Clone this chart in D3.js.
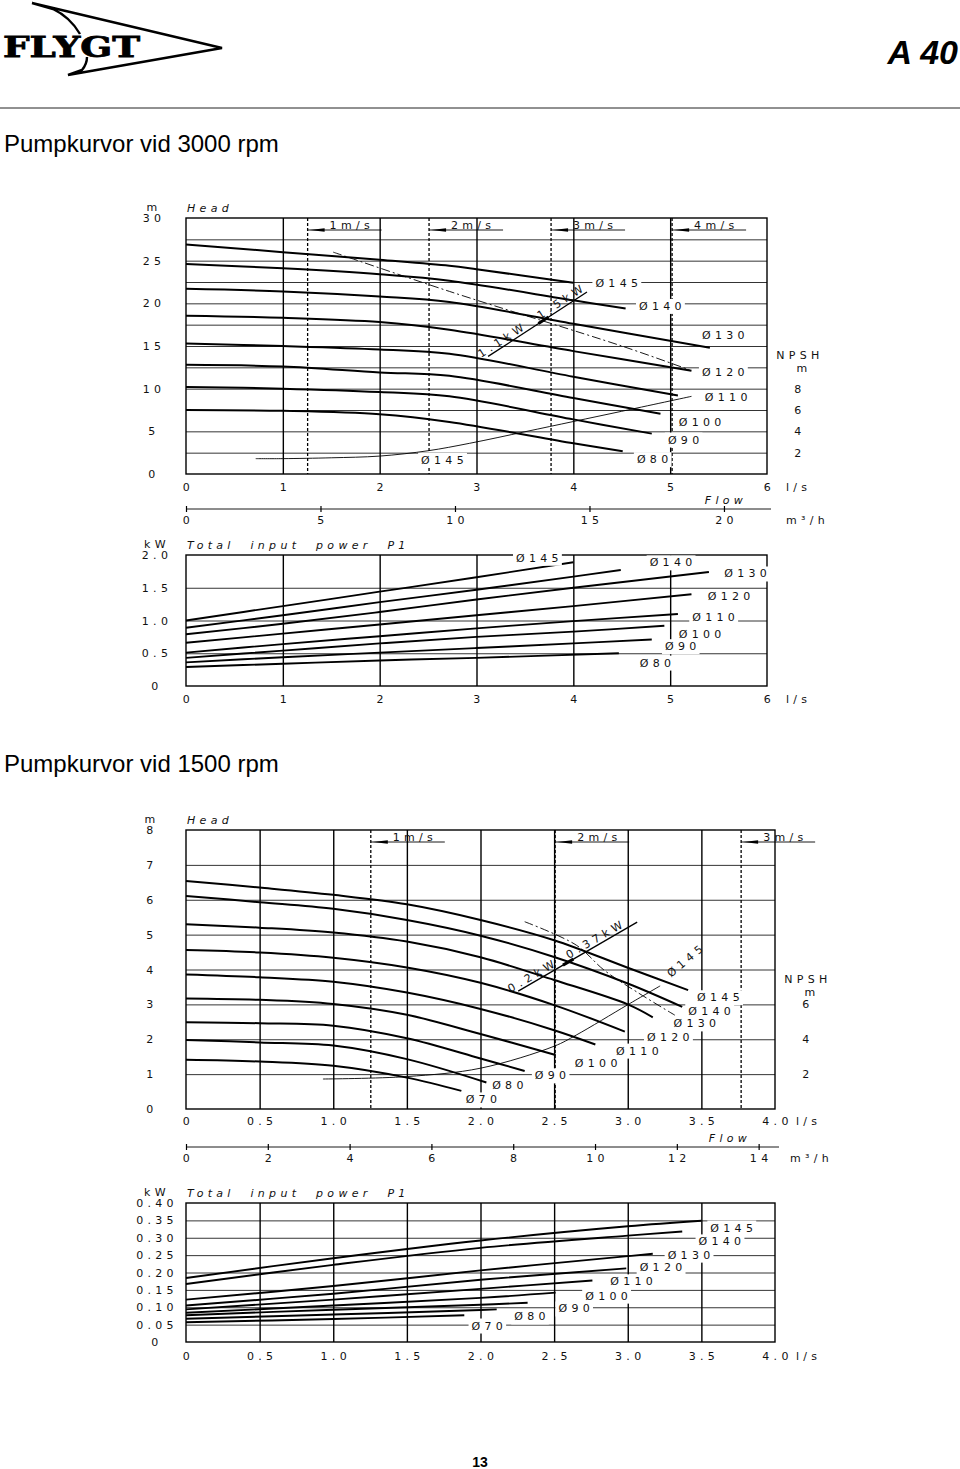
<!DOCTYPE html>
<html><head><meta charset="utf-8">
<script src="https://cdn.jsdelivr.net/npm/d3@7"></script>
<style>
body{margin:0;background:#fff;}
svg{display:block;}
.pl{font-family:"DejaVu Sans";font-size:11px;font-weight:400;letter-spacing:4.3px;fill:#111;}
.it{font-style:italic;word-spacing:8px;}
</style></head><body>
<svg id="c" width="960" height="1469"></svg>
<script>
// ---------------- DATA ----------------
const diam3000 = ["Ø145","Ø140","Ø130","Ø120","Ø110","Ø100","Ø90","Ø80"];
const head3000 = [
 [[0,26.9],[1,26.0],[2,25.1],[2.72,24.4],[3,24.0],[4,22.4]],
 [[0,24.6],[1,24.1],[2,23.4],[2.72,22.65],[4,20.35],[4.54,19.4]],
 [[0,21.7],[1,21.4],[2,20.8],[2.72,20.15],[4,17.6],[5.41,14.8]],
 [[0,18.55],[1,18.3],[2,17.8],[2.72,16.9],[4,14.4],[5.22,12.1]],
 [[0,15.3],[1,15.0],[2,14.6],[2.72,14.1],[4,11.4],[5.08,9.2]],
 [[0,12.8],[1,12.6],[2,11.9],[2.72,11.5],[4,8.9],[4.90,7.07]],
 [[0,10.2],[1,10.0],[2,9.6],[2.72,9.1],[4,6.4],[4.81,4.73]],
 [[0,7.5],[1,7.4],[2,7.0],[2.72,6.1],[4,3.6],[4.51,2.66]]
];
const headLabelPos3000 = [[4.47,22.3],[4.92,19.64],[5.57,16.24],[5.57,11.84],[5.60,8.91],[5.33,6.09],[5.16,3.98],[4.84,1.68]];
const npsh3000 = [[0.72,1.44],[1.0,1.44],[1.5,1.52],[2.0,1.68],[2.5,2.18],[2.93,2.88],[3.5,3.96],[4.0,4.92],[4.5,5.88],[5.22,7.28]];
const npshLabel3000 = {text:"Ø145", pos:[2.67,1.6]};
const eff3000 = [[1.52,26.0],[2.72,21.4],[4.51,14.96],[5.2,12.2]];
const motor3000 = [[3.12,13.78],[4.141,21.33]];
const motorLabels3000 = ["1.1kW","1.5kW"];
const velFlow3000 = [1.256,2.51,3.77,5.02];
const velLabels3000 = ["1m/s","2m/s","3m/s","4m/s"];
const power3000 = [
 [[0,1.0],[1,1.22],[2,1.44],[3,1.66],[4,1.89]],
 [[0,0.89],[1,1.08],[2,1.28],[3,1.47],[4,1.67],[4.49,1.77]],
 [[0,0.79],[1,0.95],[2,1.13],[3,1.32],[4,1.5],[5.4,1.74]],
 [[0,0.66],[1,0.80],[2,0.94],[3,1.08],[4,1.22],[5.22,1.40]],
 [[0,0.51],[1,0.64],[2,0.76],[3,0.88],[4,0.99],[5.08,1.10]],
 [[0,0.43],[1,0.54],[2,0.65],[3,0.75],[4,0.83],[4.94,0.92]],
 [[0,0.36],[1,0.44],[2,0.51],[3,0.58],[4,0.65],[4.81,0.71]],
 [[0,0.29],[1,0.34],[2,0.39],[3,0.43],[4.47,0.50]]
];
const powerLabelPos3000 = [[3.65,1.95],[5.03,1.88],[5.8,1.71],[5.63,1.36],[5.47,1.05],[5.33,0.79],[5.13,0.6],[4.87,0.35]];
const flowTicks3000 = [0,1,2,3,4,5,6];
const m3hTicks3000 = [0,5,10,15,20];
const headTicks3000 = [0,5,10,15,20,25,30];
const npshTicks3000 = [2,4,6,8];
const powerTicks3000 = [0,0.5,1.0,1.5,2.0];

const diam1500 = ["Ø145","Ø140","Ø130","Ø120","Ø110","Ø100","Ø90","Ø80","Ø70"];
const head1500 = [
 [[0,6.54],[0.5,6.35],[1,6.14],[1.5,5.87],[2,5.42],[2.5,4.84],[3,4.05],[3.41,3.41]],
 [[0,6.11],[0.5,5.93],[1,5.74],[1.5,5.42],[2,4.97],[2.5,4.36],[3,3.6],[3.37,2.93]],
 [[0,5.30],[0.5,5.20],[1,5.06],[1.5,4.80],[2,4.35],[2.5,3.70],[3,3.0],[3.17,2.63]],
 [[0,4.56],[0.5,4.49],[1,4.34],[1.5,4.06],[2,3.62],[2.5,2.98],[2.98,2.22]],
 [[0,3.86],[0.5,3.78],[1,3.65],[1.5,3.34],[2,2.87],[2.5,2.26],[2.78,1.85]],
 [[0,3.17],[0.5,3.13],[1,3.01],[1.5,2.70],[2,2.15],[2.51,1.55]],
 [[0,2.49],[0.5,2.46],[1,2.39],[1.5,2.03],[2,1.45],[2.30,1.09]],
 [[0,1.98],[0.5,1.91],[1,1.82],[1.5,1.43],[2.04,0.76]],
 [[0,1.41],[0.5,1.36],[1,1.24],[1.5,0.90],[1.87,0.52]]
];
const headLabelPos1500 = [[3.63,3.19],[3.57,2.81],[3.47,2.44],[3.29,2.05],[3.08,1.66],[2.80,1.31],[2.49,0.95],[2.20,0.66],[2.02,0.26]];
const npsh1500 = [[0.93,1.72],[1.5,1.86],[2.0,2.34],[2.5,3.6],[2.65,4.24],[3.0,5.98],[3.22,7.06]];
const npshLabel1500 = {text:"Ø145", pos:[3.40,4.27]};
const eff1500 = [[2.30,5.37],[2.65,4.70],[2.84,3.98],[3.06,3.36],[3.32,2.69]];
const motor1500 = [[2.256,3.38],[3.064,5.36]];
const motorLabels1500 = ["0.2kW","0.37kW"];
const velFlow1500 = [1.255,2.507,3.77];
const velLabels1500 = ["1m/s","2m/s","3m/s"];
const power1500 = [
 [[0,0.184],[1,0.241],[2,0.292],[3,0.333],[3.5,0.349]],
 [[0,0.167],[1,0.222],[2,0.271],[3,0.306],[3.37,0.318]],
 [[0,0.122],[1,0.161],[2,0.206],[3,0.247],[3.17,0.254]],
 [[0,0.105],[1,0.139],[2,0.179],[2.99,0.212]],
 [[0,0.094],[1,0.122],[2,0.153],[2.76,0.177]],
 [[0,0.084],[1,0.105],[2,0.127],[2.51,0.142]],
 [[0,0.077],[1,0.093],[2,0.107],[2.32,0.113]],
 [[0,0.067],[1,0.079],[2,0.092],[2.11,0.094]],
 [[0,0.057],[1,0.066],[1.89,0.077]]
];
const powerLabelPos1500 = [[3.72,0.328],[3.64,0.288],[3.43,0.25],[3.24,0.213],[3.04,0.173],[2.87,0.132],[2.65,0.095],[2.35,0.072],[2.06,0.046]];
const flowTicks1500 = [0,0.5,1.0,1.5,2.0,2.5,3.0,3.5,4.0];
const m3hTicks1500 = [0,2,4,6,8,10,12,14];
const headTicks1500 = [0,1,2,3,4,5,6,7,8];
const npshTicks1500 = [2,4,6];
const powerTicks1500 = [0,0.05,0.10,0.15,0.20,0.25,0.30,0.35,0.40];

// ---------------- DRAW ----------------
const svg = d3.select("#c");
svg.append("rect").attr("width",960).attr("height",1469).attr("fill","#fff");

const hdr = svg.append("g");
hdr.append("path").attr("d","M80,34 Q70,17 53,9 L32,3 L222,48 L68,75 L82,70 Q87,64 87,57")
  .attr("fill","none").attr("stroke","#000").attr("stroke-width",2.4).attr("stroke-linejoin","miter");
hdr.append("text").attr("x",3).attr("y",57).attr("textLength",137).attr("lengthAdjust","spacingAndGlyphs")
  .style("font-family","DejaVu Serif").style("font-weight","bold").style("font-size","27px")
  .attr("stroke","#000").attr("stroke-width",0.8).text("FLYGT");
hdr.append("text").attr("x",958).attr("y",64).attr("text-anchor","end")
  .style("font-family","Liberation Sans").style("font-weight","bold").style("font-style","italic").style("font-size","34px").text("A 40");
hdr.append("line").attr("x1",0).attr("x2",960).attr("y1",108).attr("y2",108).attr("stroke","#222").attr("stroke-width",1);
svg.append("text").attr("x",4).attr("y",152).style("font-family","Liberation Sans").style("font-size","24px").text("Pumpkurvor vid 3000 rpm");
svg.append("text").attr("x",4).attr("y",772).style("font-family","Liberation Sans").style("font-size","24px").text("Pumpkurvor vid 1500 rpm");
svg.append("text").attr("x",480).attr("y",1467).attr("text-anchor","middle").style("font-family","Liberation Sans").style("font-weight","bold").style("font-size","14px").text("13");

function txt(g, x, y, s, anchor="middle", cls="pl") {
  return g.append("text").attr("class",cls).attr("x",x).attr("y",y)
    .attr("text-anchor",anchor).attr("dominant-baseline","central").text(s);
}
function boxedLabel(g, x, y, s) {
  const t = txt(g, x, y, s);
  const bb = t.node().getBBox();
  g.insert("rect", () => t.node()).attr("x",bb.x-3).attr("y",bb.y-1).attr("width",bb.width+2).attr("height",bb.height+2).attr("fill","#fff");
  return t;
}

function chart(c) {
  const x = d3.scaleLinear().domain(c.xDom).range(c.xRange);
  const y = d3.scaleLinear().domain(c.yDom).range(c.yRange);
  const W = c.xRange[1]-c.xRange[0], H = c.yRange[0]-c.yRange[1];
  const g = svg.append("g");
  g.append("g").attr("transform",`translate(${c.xRange[0]},0)`)
    .call(d3.axisLeft(y).tickValues(c.hGrid).tickSize(-W).tickFormat(""))
    .call(a=>a.select(".domain").remove())
    .selectAll("line").attr("stroke","#000").attr("stroke-width",0.8);
  g.append("g").attr("transform",`translate(0,${c.yRange[0]})`)
    .call(d3.axisBottom(x).tickValues(c.vGrid).tickSize(-H).tickFormat(""))
    .call(a=>a.select(".domain").remove())
    .selectAll("line").attr("stroke","#000").attr("stroke-width",1.4);
  if (c.vel) {
    c.vel.forEach((v,i)=>{
      const xv = x(v);
      g.append("line").attr("x1",xv).attr("x2",xv).attr("y1",c.yRange[1]).attr("y2",c.yRange[0])
        .attr("stroke","#000").attr("stroke-width",1.3).attr("stroke-dasharray","3,2");
      const ly = c.yRange[1]+c.velDy;
      g.append("line").attr("x1",xv).attr("x2",xv+74).attr("y1",ly).attr("y2",ly).attr("stroke","#000").attr("stroke-width",0.9);
      g.append("path").attr("d",`M${xv+2},${ly} L${xv+17},${ly-1.8} L${xv+17},${ly+1.8} Z`).attr("fill","#000");
      txt(g, xv+22, ly-5, c.velLabels[i], "start");
    });
  }
  g.append("rect").attr("x",c.xRange[0]).attr("y",c.yRange[1]).attr("width",W).attr("height",H)
    .attr("fill","none").attr("stroke","#000").attr("stroke-width",1.4);
  g.append("g").attr("transform",`translate(${c.xRange[0]},0)`)
    .call(d3.axisLeft(y).tickValues(c.yTicks).tickFormat(c.yFmt).tickSize(0))
    .call(a=>a.select(".domain").remove())
    .call(a=>a.attr("font-family",null).attr("font-size",null))
    .selectAll("text").attr("class","pl").attr("x",c.yLabelX-c.xRange[0]+2).attr("dy",null)
      .attr("dominant-baseline","central").attr("text-anchor","middle");
  txt(g, c.yLabelX+2, c.yRange[1]-11, c.yUnit);
  g.append("g").attr("transform",`translate(2,${c.xLabelY})`)
    .call(d3.axisBottom(x).tickValues(c.xTicks).tickFormat(c.xFmt).tickSize(0))
    .call(a=>a.select(".domain").remove())
    .call(a=>a.attr("font-family",null).attr("font-size",null))
    .selectAll("text").attr("class","pl").attr("y",0).attr("dy",null).attr("dominant-baseline","central");
  txt(g, c.xUnitX, c.xLabelY, "l/s", "start");
  txt(g, c.xRange[0]+1, c.yRange[1]-10, c.title, "start", "pl it");
  const line = d3.line().x(d=>x(d[0])).y(d=>y(d[1])).curve(d3.curveCatmullRom.alpha(0.5));
  if (c.eff) g.append("path").attr("d",line(c.eff)).attr("fill","none").attr("stroke","#000")
      .attr("stroke-width",0.9).attr("stroke-dasharray","9,3,2,3");
  if (c.npsh) {
    const yN = d3.scaleLinear().domain(c.npshDom).range(c.yRange);
    const ln = d3.line().x(d=>x(d[0])).y(d=>yN(d[1])).curve(d3.curveCatmullRom.alpha(0.5));
    g.append("path").attr("d",ln(c.npsh)).attr("fill","none").attr("stroke","#000").attr("stroke-width",0.9);
    g.append("g").attr("transform",`translate(${c.npshX},0)`)
      .call(d3.axisRight(yN).tickValues(c.npshTicks).tickSize(0))
      .call(a=>a.select(".domain").remove())
      .call(a=>a.attr("font-family",null).attr("font-size",null))
      .selectAll("text").attr("class","pl").attr("x",2).attr("dy",null).attr("dominant-baseline","central").attr("text-anchor","middle");
    txt(g, c.npshX+2, c.npshTitleY, "NPSH");
    txt(g, c.npshX+6, c.npshTitleY+13, "m");
  }
  c.curves.forEach(d=>{
    g.append("path").attr("d",line(d)).attr("fill","none").attr("stroke","#000").attr("stroke-width",c.curveW||2);
  });
  if (c.motor) {
    const p0=[x(c.motor[0][0]),y(c.motor[0][1])], p1=[x(c.motor[1][0]),y(c.motor[1][1])];
    g.append("line").attr("x1",p0[0]).attr("y1",p0[1]).attr("x2",p1[0]).attr("y2",p1[1]).attr("stroke","#000").attr("stroke-width",1.3);
    const ang = Math.atan2(p1[1]-p0[1],p1[0]-p0[0]);
    const f=c.motorMark, mx=p0[0]+(p1[0]-p0[0])*f, my=p0[1]+(p1[1]-p0[1])*f;
    const ca=Math.cos(ang), sa=Math.sin(ang);
    g.append("line").attr("x1",mx-6*ca).attr("y1",my-6*sa).attr("x2",mx+6*ca).attr("y2",my+6*sa).attr("stroke","#000").attr("stroke-width",3);
    const deg = ang*180/Math.PI;
    [[c.motorLabelF[0],c.motorLabels[0]],[c.motorLabelF[1],c.motorLabels[1]]].forEach(([ff,s])=>{
      const lx=p0[0]+(p1[0]-p0[0])*ff+6*sa, ly=p0[1]+(p1[1]-p0[1])*ff-6*ca;
      txt(g, lx, ly, s).attr("transform",`rotate(${deg},${lx},${ly})`);
    });
  }
  c.labels.forEach((s,i)=> boxedLabel(g, x(c.labelPos[i][0]), y(c.labelPos[i][1]), s));
  if (c.npshLabel) {
    const lp=c.npshLabel;
    const lx=x(lp.pos[0]), ly=y(lp.pos[1]);
    if (lp.rot) txt(g,lx,ly,lp.text).attr("transform",`rotate(${lp.rot},${lx},${ly})`);
    else boxedLabel(g,lx,ly,lp.text);
  }
  if (c.m3h) {
    const xm = d3.scaleLinear().domain([0, c.xDom[1]*3.6]).range(c.xRange);
    const ag = g.append("g").attr("transform",`translate(0,${c.m3hY})`)
      .call(d3.axisBottom(xm).tickValues(c.m3h).tickSize(3).tickSizeOuter(0).tickPadding(0).tickFormat(d3.format("d")))
      .call(a=>a.attr("font-family",null).attr("font-size",null));
    ag.select(".domain").attr("d",`M${c.xRange[0]},0H${c.xRange[1]+4}`).attr("stroke-width",0.9);
    ag.selectAll("line").attr("y1",-3).attr("y2",3).attr("stroke-width",1.2);
    ag.selectAll("text").attr("class","pl").attr("x",2).attr("y",11).attr("dy",null).attr("dominant-baseline","central");
    txt(g, c.m3hUnitX, c.m3hY+11, "m³/h", "start");
    txt(g, c.flowX, c.m3hY-9, "Flow", "middle", "pl it");
  }
  return g;
}

const fmt1 = d3.format(".1f");
chart({xDom:[0,6], xRange:[186,767], yDom:[0,30], yRange:[474,218],
  hGrid:d3.range(2.5,30,2.5), vGrid:[1,2,3,4,5],
  vel:velFlow3000, velLabels:velLabels3000, velDy:12,
  yTicks:headTicks3000, yFmt:d3.format("d"), yLabelX:152, yUnit:"m",
  xTicks:flowTicks3000, xFmt:d3.format("d"), xLabelY:487, xUnitX:786,
  title:"Head", eff:eff3000, npsh:npsh3000, npshDom:[0,24], npshTicks:npshTicks3000, npshX:798, npshTitleY:355,
  curves:head3000, motor:motor3000, motorMark:0.56, motorLabelF:[0.18,0.78], motorLabels:motorLabels3000,
  labels:diam3000, labelPos:headLabelPos3000, npshLabel:npshLabel3000,
  m3h:m3hTicks3000, m3hY:509, m3hUnitX:786, flowX:726});

chart({xDom:[0,6], xRange:[186,767], yDom:[0,2], yRange:[686,555],
  hGrid:[0.5,1.0,1.5], vGrid:[1,2,3,4,5],
  yTicks:powerTicks3000, yFmt:d=>d===0?"0":fmt1(d), yLabelX:155, yUnit:"kW",
  xTicks:flowTicks3000, xFmt:d3.format("d"), xLabelY:699, xUnitX:786,
  title:"Total input power P1", curves:power3000, curveW:1.9,
  labels:diam3000, labelPos:powerLabelPos3000});

chart({xDom:[0,4], xRange:[186,775], yDom:[0,8], yRange:[1109,830],
  hGrid:[1,2,3,4,5,6,7], vGrid:[0.5,1,1.5,2,2.5,3,3.5],
  vel:velFlow1500, velLabels:velLabels1500, velDy:12,
  yTicks:headTicks1500, yFmt:d3.format("d"), yLabelX:150, yUnit:"m",
  xTicks:flowTicks1500, xFmt:d=>d===0?"0":fmt1(d), xLabelY:1121, xUnitX:796,
  title:"Head", eff:eff1500, npsh:npsh1500, npshDom:[0,16], npshTicks:npshTicks1500, npshX:806, npshTitleY:979,
  curves:head1500, motor:motor1500, motorMark:0.42, motorLabelF:[0.15,0.68], motorLabels:motorLabels1500,
  labels:diam1500, labelPos:headLabelPos1500, npshLabel:{text:npshLabel1500.text,pos:npshLabel1500.pos,rot:-40},
  m3h:m3hTicks1500, m3hY:1147, m3hUnitX:790, flowX:730});

chart({xDom:[0,4], xRange:[186,775], yDom:[0,0.4], yRange:[1342,1203],
  hGrid:[0.05,0.1,0.15,0.2,0.25,0.3,0.35], vGrid:[0.5,1,1.5,2,2.5,3,3.5],
  yTicks:powerTicks1500, yFmt:d=>d===0?"0":d3.format(".2f")(d), yLabelX:155, yUnit:"kW",
  xTicks:flowTicks1500, xFmt:d=>d===0?"0":fmt1(d), xLabelY:1356, xUnitX:796,
  title:"Total input power P1", curves:power1500, curveW:1.9,
  labels:diam1500, labelPos:powerLabelPos1500});
</script></body></html>
